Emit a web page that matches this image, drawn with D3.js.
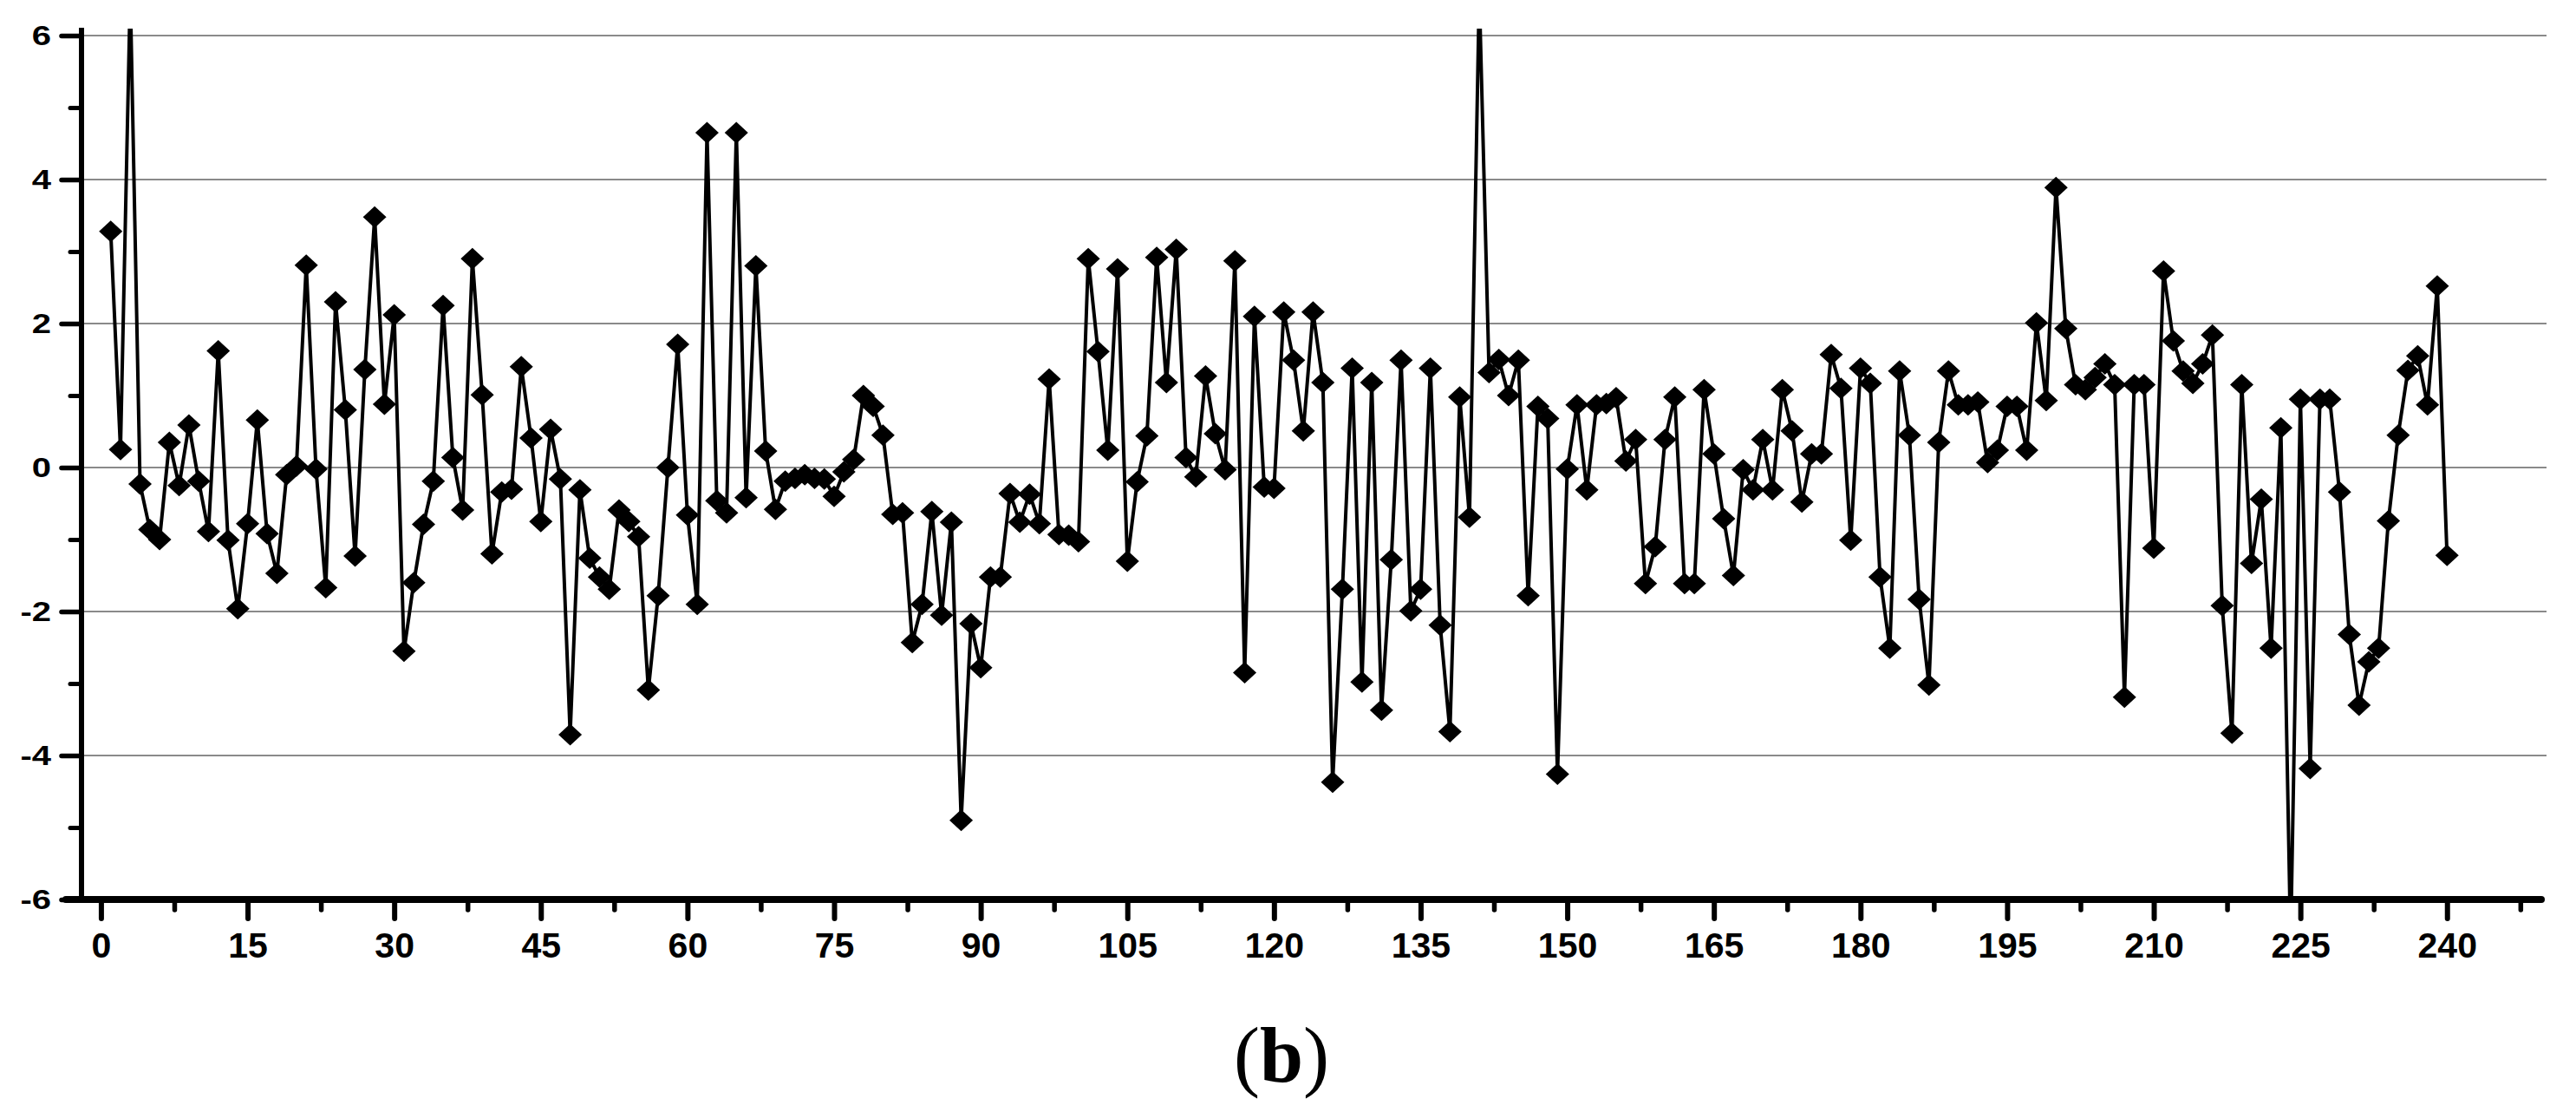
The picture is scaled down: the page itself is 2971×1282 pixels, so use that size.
<!DOCTYPE html>
<html>
<head>
<meta charset="utf-8">
<script src="https://cdn.jsdelivr.net/npm/d3@7"></script>
<style>
  html, body { margin: 0; padding: 0; background: #ffffff; }
  svg { display: block; }
</style>
</head>
<body>
<svg id="chart" width="2971" height="1282"></svg>
<script>
// ---------- data ----------
const sampleIndex = d3.range(1, 241); // x categories 1..240
const values = [
  3.28, 0.25, 6.6, -0.23, -0.86, -1.0, 0.35, -0.25, 0.59, -0.19,
  -0.89, 1.62, -1.01, -1.96, -0.78, 0.66, -0.92, -1.47, -0.10, 0.02,
  2.81, -0.02, -1.67, 2.30, 0.80, -1.23, 1.36, 3.48, 0.88, 2.12,
  -2.55, -1.60, -0.79, -0.19, 2.25, 0.14, -0.59, 2.90, 1.01, -1.20,
  -0.34, -0.30, 1.40, 0.41, -0.75, 0.53, -0.16, -3.71, -0.31, -1.26,
  -1.52, -1.69, -0.59, -0.75, -0.96, -3.09, -1.78, 0.0, 1.71, -0.66,
  -1.90, 4.65, -0.46, -0.63, 4.65, -0.42, 2.80, 0.23, -0.58, -0.19,
  -0.15, -0.10, -0.15, -0.16, -0.40, -0.06, 0.11, 1.00, 0.85, 0.45,
  -0.65, -0.63, -2.43, -1.90, -0.61, -2.05, -0.76, -4.90, -2.17, -2.78,
  -1.52, -1.52, -0.36, -0.76, -0.37, -0.78, 1.23, -0.93, -0.94, -1.03,
  2.90, 1.61, 0.24, 2.76, -1.30, -0.20, 0.44, 2.92, 1.18, 3.03,
  0.14, -0.13, 1.27, 0.47, -0.03, 2.87, -2.85, 2.10, -0.27, -0.29,
  2.16, 1.49, 0.51, 2.16, 1.18, -4.37, -1.69, 1.38, -2.98, 1.18,
  -3.37, -1.28, 1.49, -1.99, -1.69, 1.38, -2.19, -3.67, 0.98, -0.69,
  6.6, 1.32, 1.50, 1.00, 1.49, -1.78, 0.85, 0.68, -4.26, -0.02,
  0.87, -0.31, 0.87, 0.89, 0.97, 0.09, 0.39, -1.61, -1.10, 0.39,
  0.98, -1.61, -1.61, 1.08, 0.19, -0.71, -1.50, -0.03, -0.31, 0.39,
  -0.31, 1.08, 0.51, -0.48, 0.19, 0.19, 1.57, 1.10, -1.01, 1.38,
  1.17, -1.52, -2.51, 1.34, 0.45, -1.83, -3.02, 0.35, 1.34, 0.87,
  0.87, 0.91, 0.07, 0.24, 0.85, 0.85, 0.24, 2.01, 0.93, 3.89,
  1.93, 1.15, 1.08, 1.25, 1.44, 1.15, -3.19, 1.15, 1.15, -1.12,
  2.73, 1.76, 1.34, 1.17, 1.44, 1.84, -1.92, -3.69, 1.15, -1.33,
  -0.44, -2.51, 0.55, -6.6, 0.95, -4.18, 0.95, 0.95, -0.34, -2.32,
  -3.30, -2.70, -2.51, -0.74, 0.45, 1.35, 1.55, 0.87, 2.52, -1.22
];
const xMajorTicks = [0, 15, 30, 45, 60, 75, 90, 105, 120, 135, 150, 165, 180, 195, 210, 225, 240];
const xMinorTicks = [7.5, 22.5, 37.5, 52.5, 67.5, 82.5, 97.5, 112.5, 127.5, 142.5, 157.5, 172.5, 187.5, 202.5, 217.5, 232.5, 247.5];
const yMajorTicks = [-6, -4, -2, 0, 2, 4, 6];
const yMinorTicks = [-5, -3, -1, 1, 3, 5];
const gridValues = [-4, -2, 0, 2, 4, 6];
const panelLabel = "b";

// ---------- layout ----------
const svg = d3.select("#chart");
const plotLeft = 94, plotRight = 2937, plotTop = 41, plotBottom = 1037;

const x = d3.scaleLinear().domain([-1.9, 250]).range([95, 2935]);
const y = d3.scaleLinear().domain([-6, 6]).range([plotBottom, plotTop]);
const plainFormat = d => String(d); // ASCII hyphen-minus as in the original

svg.append("rect").attr("width", 2971).attr("height", 1282).attr("fill", "#fff");

// gridlines
svg.append("g").selectAll("line").data(gridValues).join("line")
  .attr("x1", plotLeft).attr("x2", plotRight)
  .attr("y1", d => y(d)).attr("y2", d => y(d))
  .attr("stroke", "#8a8a8a").attr("stroke-width", 2);

// clip
svg.append("defs").append("clipPath").attr("id", "plotClip")
  .append("rect").attr("x", plotLeft).attr("y", 33)
  .attr("width", plotRight - plotLeft).attr("height", plotBottom - 33);

const data = sampleIndex.map((i, k) => ({ i, v: values[k] }));

const g = svg.append("g").attr("clip-path", "url(#plotClip)");
g.append("path").datum(data)
  .attr("d", d3.line().x(d => x(d.i)).y(d => y(d.v)))
  .attr("fill", "none").attr("stroke", "#000").attr("stroke-width", 4)
  .attr("stroke-linejoin", "miter");

const hx = 13.5, hy = 12.5;
g.append("g").selectAll("path").data(data).join("path")
  .attr("transform", d => `translate(${x(d.i)},${y(d.v)})`)
  .attr("d", `M0,${-hy}L${hx},0L0,${hy}L${-hx},0Z`)
  .attr("fill", "#000");

// ---------- axes ----------
// minor y ticks
svg.append("g").attr("transform", `translate(${plotLeft},0)`)
  .call(d3.axisLeft(y).tickValues(yMinorTicks).tickSize(13).tickFormat(""))
  .call(s => s.select(".domain").remove())
  .call(s => s.selectAll("line").attr("stroke", "#000").attr("stroke-width", 5).attr("stroke-linecap", "round"));

// major y ticks
const yAxisG = svg.append("g").attr("transform", `translate(${plotLeft},0)`)
  .call(d3.axisLeft(y).tickValues(yMajorTicks).tickSize(23).tickPadding(12).tickFormat(plainFormat))
  .call(s => s.select(".domain").remove())
  .call(s => s.selectAll("line").attr("stroke", "#000").attr("stroke-width", 5.5).attr("stroke-linecap", "round"));
yAxisG.selectAll("text")
  .attr("fill", "#000")
  .attr("font-family", "'Liberation Sans', Arial, sans-serif")
  .attr("font-weight", "bold")
  .attr("font-size", 40)
  .attr("transform", "scale(1,0.8)");

// minor x ticks
svg.append("g").attr("transform", `translate(0,${plotBottom})`)
  .call(d3.axisBottom(x).tickValues(xMinorTicks).tickSize(12).tickFormat(""))
  .call(s => s.select(".domain").remove())
  .call(s => s.selectAll("line").attr("stroke", "#000").attr("stroke-width", 5.5).attr("stroke-linecap", "round"));

// major x ticks
const xAxisG = svg.append("g").attr("transform", `translate(0,${plotBottom})`)
  .call(d3.axisBottom(x).tickValues(xMajorTicks).tickSize(22).tickPadding(16).tickFormat(plainFormat))
  .call(s => s.select(".domain").remove())
  .call(s => s.selectAll("line").attr("stroke", "#000").attr("stroke-width", 6).attr("stroke-linecap", "round"));
xAxisG.selectAll("text")
  .attr("fill", "#000")
  .attr("font-family", "'Liberation Sans', Arial, sans-serif")
  .attr("font-weight", "bold")
  .attr("font-size", 41);

// axis lines
svg.append("line")
  .attr("x1", plotLeft).attr("x2", plotLeft)
  .attr("y1", 32).attr("y2", plotBottom)
  .attr("stroke", "#000").attr("stroke-width", 6);
svg.append("line")
  .attr("x1", 76).attr("x2", 2931)
  .attr("y1", plotBottom).attr("y2", plotBottom)
  .attr("stroke", "#000").attr("stroke-width", 8).attr("stroke-linecap", "round");

// panel label
const lbl = svg.append("text")
  .attr("x", 1478).attr("y", 1247)
  .attr("text-anchor", "middle")
  .attr("font-family", "'Liberation Serif', 'Times New Roman', serif")
  .attr("font-size", 90)
  .attr("fill", "#000");
lbl.append("tspan").text("(");
lbl.append("tspan").attr("font-weight", "bold").text(panelLabel);
lbl.append("tspan").text(")");
</script>
</body>
</html>
